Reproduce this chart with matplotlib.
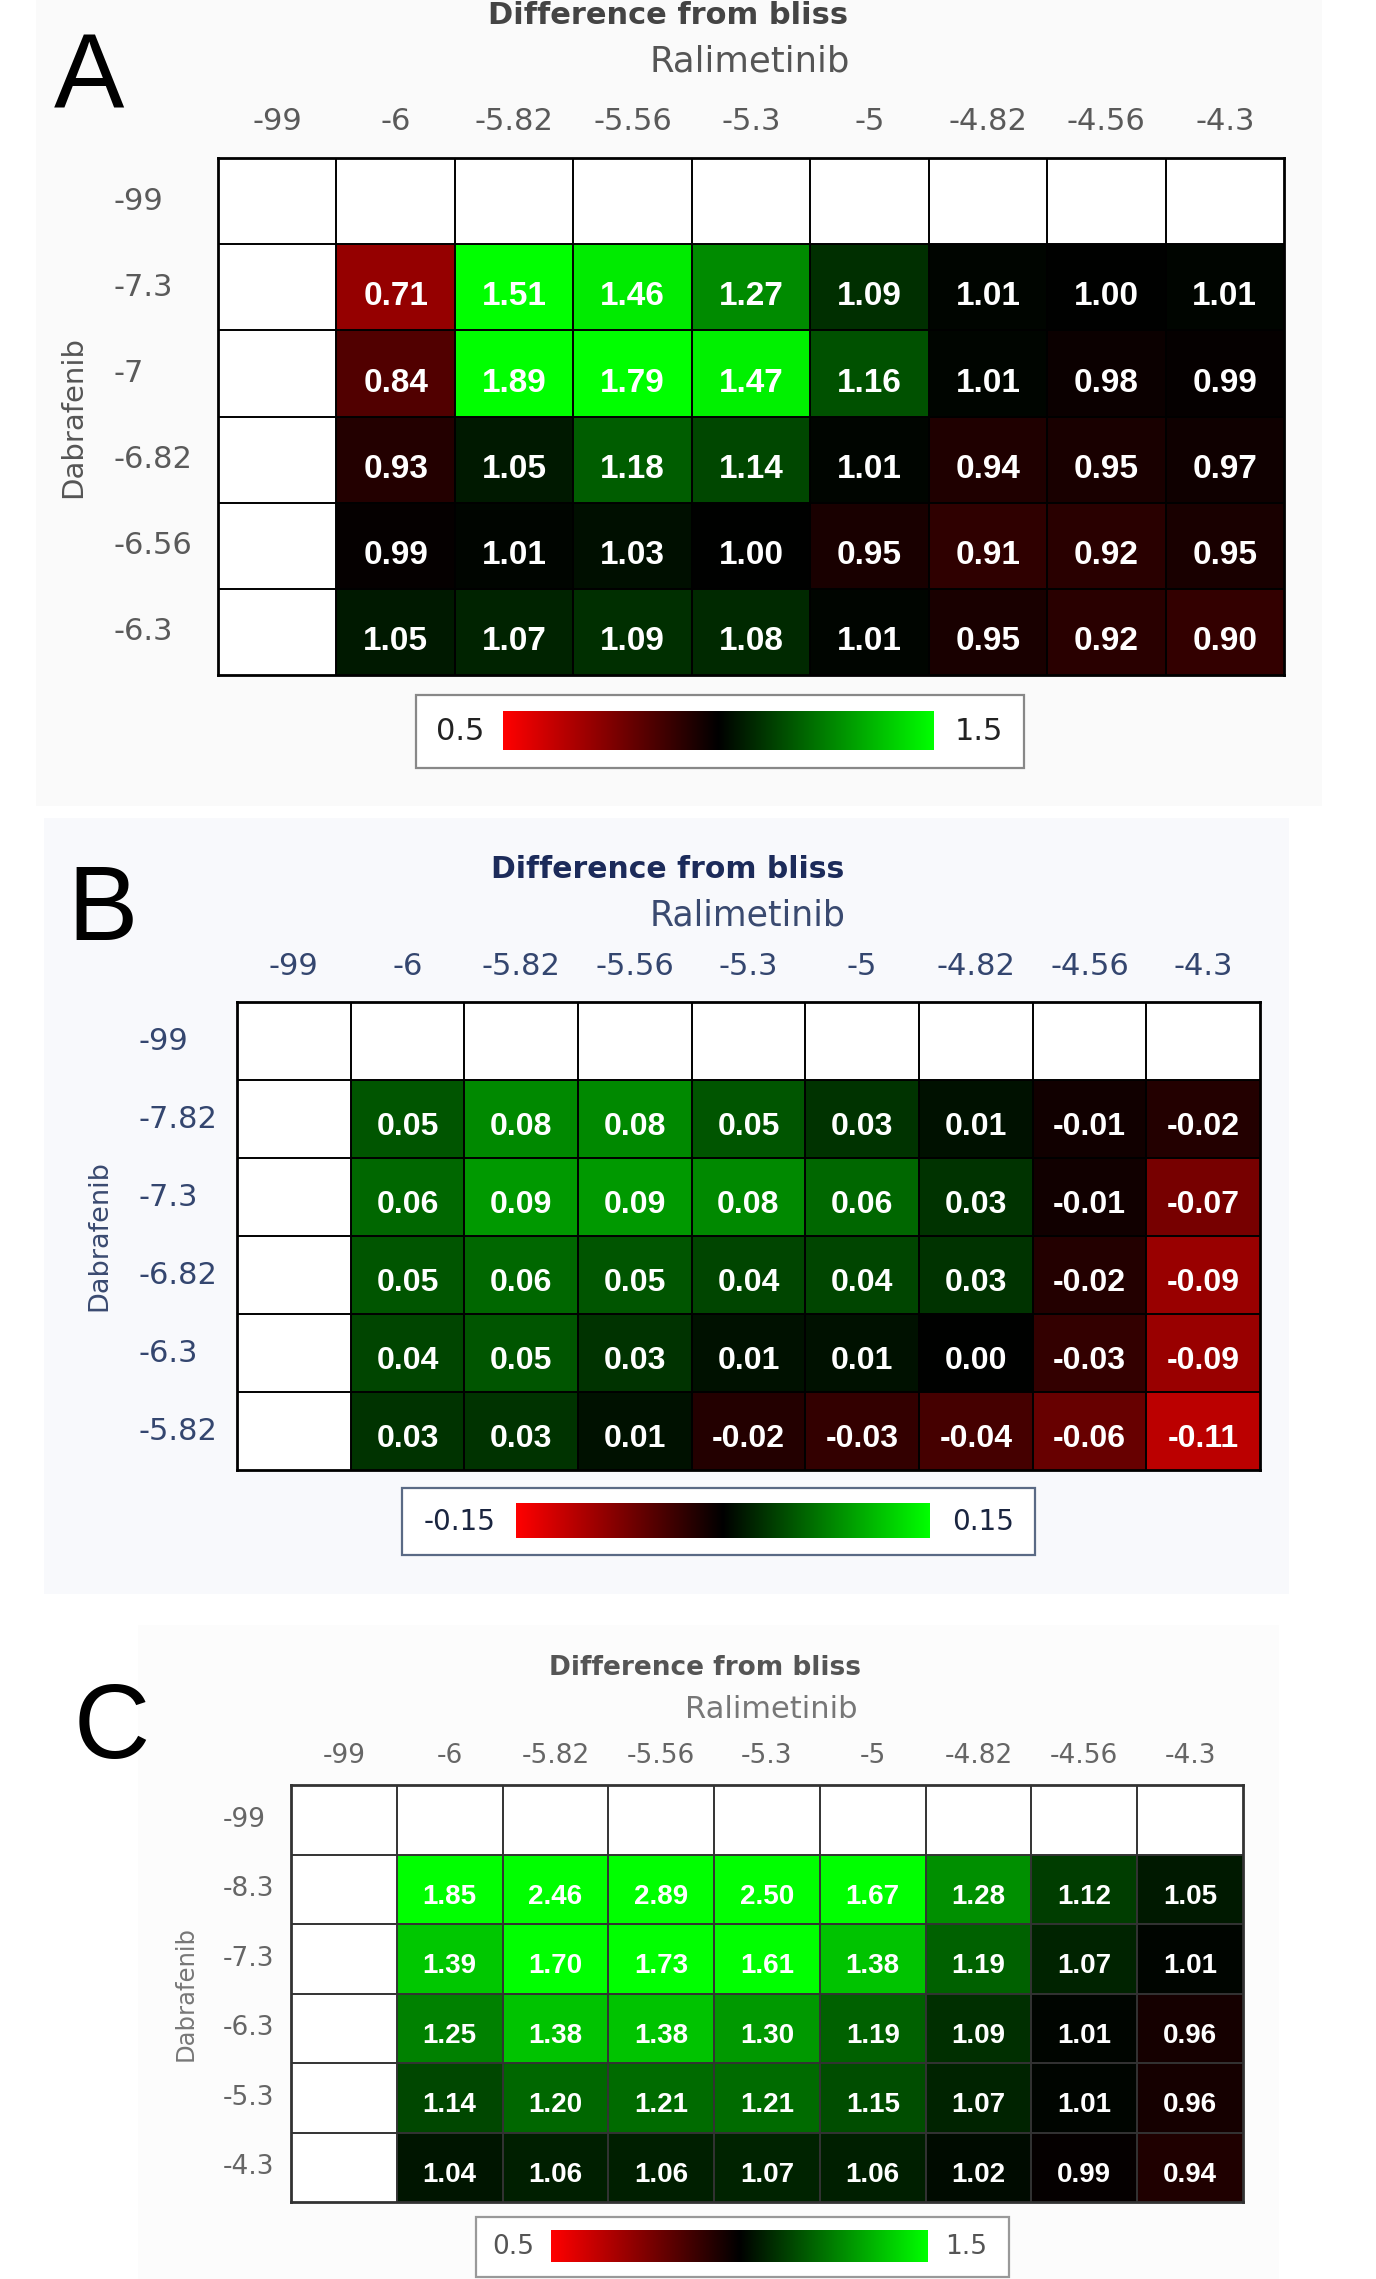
import numpy as np
import matplotlib
matplotlib.use("Agg")
import matplotlib.pyplot as plt
from matplotlib.colors import LinearSegmentedColormap
from matplotlib.patches import Rectangle
from matplotlib.transforms import blended_transform_factory

W, H = 1376, 2279

# ---- data ----
ralimetinib = ["-99", "-6", "-5.82", "-5.56", "-5.3", "-5", "-4.82", "-4.56", "-4.3"]

dabrafenib_a = ["-99", "-7.3", "-7", "-6.82", "-6.56", "-6.3"]
values_a = [
    [0.71, 1.51, 1.46, 1.27, 1.09, 1.01, 1.00, 1.01],
    [0.84, 1.89, 1.79, 1.47, 1.16, 1.01, 0.98, 0.99],
    [0.93, 1.05, 1.18, 1.14, 1.01, 0.94, 0.95, 0.97],
    [0.99, 1.01, 1.03, 1.00, 0.95, 0.91, 0.92, 0.95],
    [1.05, 1.07, 1.09, 1.08, 1.01, 0.95, 0.92, 0.90],
]
range_a = (0.5, 1.5)

dabrafenib_b = ["-99", "-7.82", "-7.3", "-6.82", "-6.3", "-5.82"]
values_b = [
    [0.05, 0.08, 0.08, 0.05, 0.03, 0.01, -0.01, -0.02],
    [0.06, 0.09, 0.09, 0.08, 0.06, 0.03, -0.01, -0.07],
    [0.05, 0.06, 0.05, 0.04, 0.04, 0.03, -0.02, -0.09],
    [0.04, 0.05, 0.03, 0.01, 0.01, 0.00, -0.03, -0.09],
    [0.03, 0.03, 0.01, -0.02, -0.03, -0.04, -0.06, -0.11],
]
range_b = (-0.15, 0.15)

dabrafenib_c = ["-99", "-8.3", "-7.3", "-6.3", "-5.3", "-4.3"]
values_c = [
    [1.85, 2.46, 2.89, 2.50, 1.67, 1.28, 1.12, 1.05],
    [1.39, 1.70, 1.73, 1.61, 1.38, 1.19, 1.07, 1.01],
    [1.25, 1.38, 1.38, 1.30, 1.19, 1.09, 1.01, 0.96],
    [1.14, 1.20, 1.21, 1.21, 1.15, 1.07, 1.01, 0.96],
    [1.04, 1.06, 1.06, 1.07, 1.06, 1.02, 0.99, 0.94],
]
range_c = (0.5, 1.5)

cmap = LinearSegmentedColormap.from_list("rbg", ["#ff0000", "#000000", "#00ff00"])
cmap.set_bad("white")

# layout in reference pixels
PANELS = [
    dict(letter="A", rows=dabrafenib_a, vals=values_a, rng=range_a,
         grid=(218, 158, 1284, 675), bg=(36, 0, 1322, 806, "#fafafa"),
         letter_xy=(54, 107), title_xy=(668, 15), drug_xy=(750, 62), col_y=121,
         row_x=114, dab_x=73, fs=dict(title=22, drug=25.5, tick=22, dab=21, cell=24, cb=22),
         tcol="#444444", dcol="#555555", kcol="#5a5a5a", gcol="black",
         cbox=(416, 695, 1024, 768), cgrad=(503, 711, 934, 750), cb_lab=(460, 979),
         cb_edge="#888888", cb_txt="#222222"),
    dict(letter="B", rows=dabrafenib_b, vals=values_b, rng=range_b,
         grid=(237, 1002, 1260, 1470), bg=(44, 818, 1289, 1594, "#f8f9fc"),
         letter_xy=(67, 940), title_xy=(668, 870), drug_xy=(748, 916), col_y=967,
         row_x=138, dab_x=99, fs=dict(title=21.5, drug=25, tick=22, dab=19.5, cell=23, cb=20),
         tcol="#1c2b5a", dcol="#3a4a70", kcol="#34466f", gcol="black",
         cbox=(402, 1488, 1035, 1555), cgrad=(516, 1503, 930, 1538), cb_lab=(460, 983),
         cb_edge="#5a6a85", cb_txt="#1a2540"),
    dict(letter="C", rows=dabrafenib_c, vals=values_c, rng=range_c,
         grid=(291, 1785, 1243, 2202), bg=(138, 1625, 1279, 2279, "#fcfcfc"),
         letter_xy=(74, 1758), title_xy=(705, 1668), drug_xy=(771, 1709), col_y=1756,
         row_x=223, dab_x=186, fs=dict(title=19, drug=22, tick=19, dab=17.5, cell=20, cb=19),
         tcol="#555555", dcol="#777777", kcol="#666666", gcol="#333333",
         cbox=(476, 2217, 1009, 2277), cgrad=(551, 2230, 928, 2262), cb_lab=(513, 966),
         cb_edge="#999999", cb_txt="#555555"),
]


def fx(px):
    return px / W


def fy(py):
    return 1 - py / H


def rect(x0, y0, x1, y1):
    return [fx(x0), fy(y1), (x1 - x0) / W, (y1 - y0) / H]


fig = plt.figure(figsize=(W / 100, H / 100), dpi=100)
fig.patch.set_facecolor("white")

for p in PANELS:
    bx0, by0, bx1, by1, bcol = p["bg"]
    fig.patches.append(Rectangle((fx(bx0), fy(by1)), (bx1 - bx0) / W, (by1 - by0) / H,
                                 transform=fig.transFigure, facecolor=bcol,
                                 edgecolor="none", zorder=-2))

    vals = np.array(p["vals"], dtype=float)
    nr, nc = len(p["rows"]), len(ralimetinib)
    full = np.full((nr, nc), np.nan)
    full[1:, 1:] = vals
    vmin, vmax = p["rng"]

    ax = fig.add_axes(rect(*p["grid"]))
    ax.set_zorder(1)
    ax.pcolormesh(np.arange(nc + 1), np.arange(nr + 1), np.ma.masked_invalid(full),
                  cmap=cmap, vmin=vmin, vmax=vmax)
    ax.set_xlim(0, nc)
    ax.set_ylim(nr, 0)
    ax.set_facecolor("white")
    ax.hlines(np.arange(1, nr), 0, nc, color=p["gcol"], lw=1.4)
    ax.vlines(np.arange(1, nc), 0, nr, color=p["gcol"], lw=1.4)
    for s in ax.spines.values():
        s.set_linewidth(2)
        s.set_color(p["gcol"])
    ax.set_xticks([])
    ax.set_yticks([])

    # cell values sit a little below the middle of each cell
    for i in range(vals.shape[0]):
        for j in range(vals.shape[1]):
            ax.text(j + 1.5, i + 1.71, f"{vals[i, j]:.2f}", ha="center", va="baseline",
                    color="white", fontsize=p["fs"]["cell"], fontweight="bold",
                    family=["Liberation Sans", "DejaVu Sans"])

    # column labels (Ralimetinib) and row labels (Dabrafenib)
    tx = blended_transform_factory(ax.transData, fig.transFigure)
    for j, lab in enumerate(ralimetinib):
        ax.text(j + 0.5, fy(p["col_y"]), lab, transform=tx, ha="center", va="center",
                fontsize=p["fs"]["tick"], color=p["kcol"], clip_on=False)
    ty = blended_transform_factory(fig.transFigure, ax.transData)
    for i, lab in enumerate(p["rows"]):
        ax.text(fx(p["row_x"]), i + 0.5, lab, transform=ty, ha="left", va="center",
                fontsize=p["fs"]["tick"], color=p["kcol"], clip_on=False)

    gy = (p["grid"][1] + p["grid"][3]) / 2
    fig.text(fx(p["dab_x"]), fy(gy), "Dabrafenib", rotation=90, ha="center", va="center",
             fontsize=p["fs"]["dab"], color=p["dcol"])
    fig.text(fx(p["title_xy"][0]), fy(p["title_xy"][1]), "Difference from bliss",
             ha="center", va="center", fontsize=p["fs"]["title"], fontweight="bold",
             color=p["tcol"])
    fig.text(fx(p["drug_xy"][0]), fy(p["drug_xy"][1]), "Ralimetinib",
             ha="center", va="center", fontsize=p["fs"]["drug"], color=p["dcol"])
    fig.text(fx(p["letter_xy"][0]), fy(p["letter_xy"][1]), p["letter"],
             ha="left", va="baseline", fontsize=76, color="black",
             family=["Liberation Sans", "DejaVu Sans"])

    # colour key
    cx0, cy0, cx1, cy1 = p["cbox"]
    fig.patches.append(Rectangle((fx(cx0), fy(cy1)), (cx1 - cx0) / W, (cy1 - cy0) / H,
                                 transform=fig.transFigure, facecolor="white",
                                 edgecolor=p["cb_edge"], lw=1.6, zorder=-1))
    cax = fig.add_axes(rect(*p["cgrad"]))
    cax.set_zorder(1)
    cax.imshow(np.linspace(vmin, vmax, 256)[None, :], aspect="auto", cmap=cmap,
               vmin=vmin, vmax=vmax, extent=(vmin, vmax, 0, 1))
    cax.set_axis_off()
    cyc = fy((cy0 + cy1) / 2)
    fig.text(fx(p["cb_lab"][0]), cyc, f"{vmin:g}", ha="center", va="center",
             fontsize=p["fs"]["cb"], color=p["cb_txt"])
    fig.text(fx(p["cb_lab"][1]), cyc, f"{vmax:g}", ha="center", va="center",
             fontsize=p["fs"]["cb"], color=p["cb_txt"])

fig.savefig("out.png", dpi=100)
